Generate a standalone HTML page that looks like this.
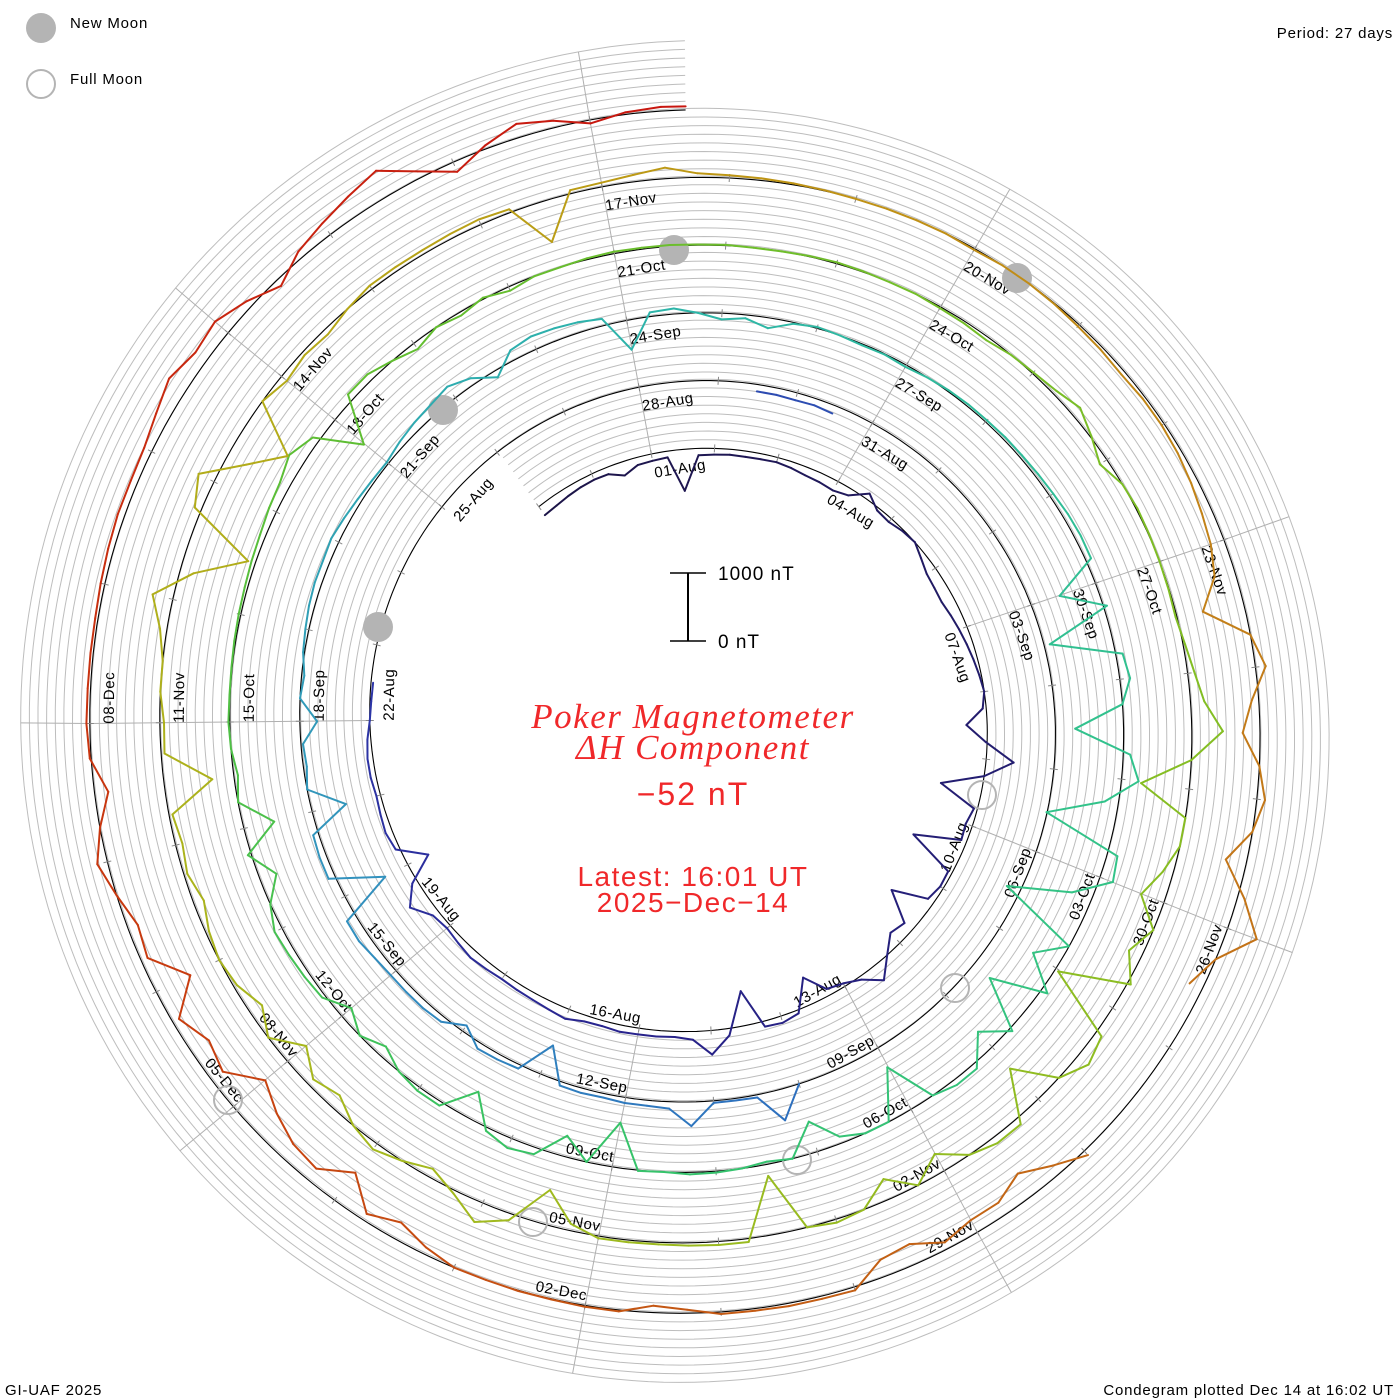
<!DOCTYPE html>
<html><head><meta charset="utf-8"><style>
html,body{margin:0;padding:0;background:#fff;}
svg{display:block;font-family:"Liberation Sans",sans-serif;}
</style></head><body>
<svg id="chart" width="1400" height="1400" viewBox="0 0 1400 1400" xmlns="http://www.w3.org/2000/svg">
<rect x="0" y="0" width="1400" height="1400" fill="#fff"/>
<g id="grid"></g>
<g id="radials"></g>
<g id="ticks"></g>
<g id="labels"></g>
<g id="moons"></g>
<g id="series"></g>

<g>
<circle cx="41" cy="28" r="15" fill="#b4b4b4"/>
<text x="70" y="28" font-size="15" letter-spacing="0.8">New Moon</text>
<circle cx="41" cy="84" r="14" fill="none" stroke="#b4b4b4" stroke-width="2"/>
<text x="70" y="84" font-size="15" letter-spacing="0.8">Full Moon</text>
</g>
<text x="1393" y="38" font-size="15" text-anchor="end" letter-spacing="0.8">Period: 27 days</text>
<text x="5" y="1395" font-size="15" letter-spacing="0.8">GI-UAF 2025</text>
<text x="1394" y="1395" font-size="15" text-anchor="end" letter-spacing="0.8">Condegram plotted Dec 14 at 16:02 UT</text>

<g>
<line x1="688" y1="573" x2="688" y2="641" stroke="#000" stroke-width="2"/>
<line x1="670" y1="573" x2="706" y2="573" stroke="#000" stroke-width="1.5"/>
<line x1="670" y1="641" x2="706" y2="641" stroke="#000" stroke-width="1.5"/>
<text x="718" y="580" font-size="19" letter-spacing="1">1000 nT</text>
<text x="718" y="648" font-size="19" letter-spacing="1">0 nT</text>
</g>

<g fill="#f0282a" text-anchor="middle">
<text x="693" y="728" font-family="'Liberation Serif',serif" font-style="italic" font-size="35" letter-spacing="1.5">Poker Magnetometer</text>
<text x="693" y="759" font-family="'Liberation Serif',serif" font-style="italic" font-size="35" letter-spacing="1.5">ΔH Component</text>
<text x="693" y="805" font-size="32" letter-spacing="2">−52 nT</text>
<text x="693" y="886" font-size="28" letter-spacing="1.5">Latest: 16:01 UT</text>
<text x="693" y="912" font-size="28" letter-spacing="1.5">2025−Dec−14</text>
</g>
</svg>
<script>
// ---- data (nT offsets, sampled every 0.25 day; t = days since 01-Aug) ----
const STEP = 0.25;
const segAStart = -2;
const segAValues = [-150,-140,-120,-100,-90,-100,-200,-110,
  -100,-90,-600,-100,-90,-80,-85,-80,
  -70,-90,-120,-130,-150,-100,90,-40,
  -60,-20,0,-80,-150,-170,-180,-150,
  -120,-90,-60,-30,0,-50,-300,-20,
  400,0,-600,-50,-100,-80,-750,-60,
  -50,-100,-600,-150,-200,0,250,50,
  -50,-100,-400,50,100,80,-500,100,
  350,120,80,90,90,100,80,90,
  150,120,100,90,80,100,120,90,
  60,100,300,80,-330,60,100,80,
  60,80,80,50,0,-20,-30];
const segBStart = 28.5;
const segBValues = [-100,-100,-110,-100,-120];
const segCStart = 40;
const segCValues = [
  0,450,40,30, 30,350,100,80, 80,60,70,60, -450,60,80,90, -100,80,100,100,
  100,120,160,150, -650,100,100,80, -500,0,-50,-30, -250,0,-40,20, 50,80,100,100,
  120,90,60,40, 30,80,120,150, 200,100,-100,150, 200,180,150,100, -430,60,80,0,
  -90,-50,-150,-20, 20,0,-20,-10, -30,0,20,30, 30,40,40,50, 60,80,90,80,
  -550,50,-900,100, 150,0,-700,100, 250,-200,-1000,150, 200,-300,-1200,0, -400,100,-700,50,
  -300,80,80,0, -700,0,0,-100, -450,0,-40,0, 20,30,0,10, -650,0,-300,100,
  150,50,-400,60, 60,0,-150,0, -180,50,80,100, 120,0,-250,50, -450,0,-60,0,
  20,10,10,20, 30,40,60,80, 120,150,240,100, -550,100,100,0, -100,0,-50,20,
  -60,0,0,20, 30,20,20,10, 10,0,0,10, 20,10,0,0, -20,-30,-50,0,
  20,60,150,20, -120,0,20,10, 0,-10,-20,30, 100,200,450,0, -700,0,0,-150,
  -350,0,-200,50, -950,100,200,0, -600,100,100,0, -280,0,-300,0, 50,0,-850,50,
  50,40,30,30, 30,-100,-500,100, 300,50,-130,0, 100,0,-200,-100, -350,0,-200,-50,
  0,-50,-150,-50, -100,-50,-700,-50, -60,0,0,100, 300,-200,-900,100, 250,-300,-750,0,
  -100,-50,-80,0, 60,60,60,70, 80,50,-600,50, 60,100,160,60, 40,30,20,10,
  0,0,0,0, -20,0,0,-10, -30,-40,-60,-40, -40,-60,-100,-150, -200,-300,-600,0,
  150,-100,-250,0, 120,0,-300,100, 450,0,-200,null, null,null,null,null, 80,-150,-380,-200,
  -200,-100,-300,-250, 50,40,40,30, 30,-50,-100,20, 20,10,10,0, 0,-100,-250,-100,
  -500,-200,-250,-400, -600,-200,-300,-100, -550,-100,-150,0, 150,0,-200,20, 50,40,40,40,
  60,80,100,100, 120,200,300,200, 250,100,-100,100, 200,300,400,100, -150,50,200,100,
  -50,30,60];
const endTime = 135.67;
const endValue = 50;
const lastLabelDay = 129;
const monthNames = ["Aug","Sep","Oct","Nov","Dec"];
const monthDays = [31,30,31,30,31];
const newMoons = [[674,250],[1017,278],[443,410],[378,627]];
const fullMoons = [[982,795],[955,988],[797,1160],[533,1222],[228,1100]];

// ---- geometry ----
const NS = "http://www.w3.org/2000/svg";
const T0 = -2;
const PERIOD = 27;
const TURN = 69.1;
const PX_PER_NT = TURN / 1000;
function B(t){ return 272 + TURN / PERIOD * t; }
function C(t){ return [696 - 4*(t-7)/120, 723 + 6*(t-14)/120]; }
function angDeg(t){ return -9.5 + 360*t/PERIOD; }
function P(t, off){
  const c = C(t), r = B(t) + off, a = angDeg(t)*Math.PI/180;
  return [c[0] + r*Math.sin(a), c[1] - r*Math.cos(a)];
}
function mk(tag, attrs, parent){
  const e = document.createElementNS(NS, tag);
  for (const k in attrs) e.setAttribute(k, attrs[k]);
  parent.appendChild(e);
  return e;
}
function ptsStr(a){ return a.map(p => p[0].toFixed(1)+","+p[1].toFixed(1)).join(" "); }

const grid = document.getElementById("grid");
for (let k = 1; k <= 8; k++){
  const pts = [];
  for (let t = T0; t <= endTime + 1e-6; t += 0.1) pts.push(P(t, k*TURN/8));
  pts.push(P(endTime, k*TURN/8));
  const pl = mk("polyline", {points: ptsStr(pts), fill: "none", stroke: "#bdbdbd", "stroke-width": 1}, grid);
  
  
}
{
  const pts = [];
  for (let t = T0; t <= endTime + 1e-6; t += 0.1) pts.push(P(t, 0));
  pts.push(P(endTime, 0));
  const pl = mk("polyline", {points: ptsStr(pts), fill: "none", stroke: "#000", "stroke-width": 1.1}, grid);
  
  
}
const radials = document.getElementById("radials");
for (let k = 0; k < 9; k++){
  const tf = 3*k;
  let tl = tf; while (tl + PERIOD <= endTime) tl += PERIOD;
  const pts = [];
  for (let t = tf; t <= tl + 1e-6; t += PERIOD) pts.push(P(t, 0));
  pts.push(P(tl, TURN));
  const pl = mk("polyline", {points: ptsStr(pts), fill: "none", stroke: "#b0b0b0", "stroke-width": 1}, radials);
  
  
}
const ticks = document.getElementById("ticks");
for (let t = -2; t <= 135; t++){
  const a = P(t, -4), b = P(t, 4);
  const ln = mk("line", {x1: a[0], y1: a[1], x2: b[0], y2: b[1], stroke: "#888", "stroke-width": 1}, ticks);
  
  
}
function dateLabel(t){
  let d = t, m = 0;
  while (d >= monthDays[m]) { d -= monthDays[m]; m++; }
  const dd = d + 1;
  return (dd < 10 ? "0" + dd : "" + dd) + "-" + monthNames[m];
}
const labels = document.getElementById("labels");
for (let t = 0; t <= lastLabelDay; t += 3){
  let a = ((angDeg(t) % 360) + 360) % 360;
  const flip = a > 90 && a < 270;
  const p = flip ? P(t, -5) : P(t, -24);
  const rot = flip ? a - 180 : a;
  const tx = mk("text", {x: 0, y: 0, "font-size": 15, "letter-spacing": 0.6,
    "text-anchor": flip ? "end" : "start",
    transform: "translate(" + p[0].toFixed(1) + "," + p[1].toFixed(1) + ") rotate(" + rot.toFixed(2) + ")"}, labels);
  tx.textContent = dateLabel(t);
  
  
}
const moons = document.getElementById("moons");
newMoons.forEach(m => {
  const c = mk("circle", {cx: m[0], cy: m[1], r: 15, fill: "#b4b4b4"}, moons);
  
  
});
fullMoons.forEach(m => {
  const c = mk("circle", {cx: m[0], cy: m[1], r: 14, fill: "none", stroke: "#b4b4b4", "stroke-width": 2}, moons);
  
  
});
const cStops = [[-2,[28,20,70]],[15,[40,35,140]],[22,[45,55,170]],[40,[45,110,190]],[46,[50,145,190]],
  [54,[45,180,170]],[62,[50,195,140]],[70,[55,195,100]],[78,[95,190,50]],[88,[130,190,35]],
  [98,[165,185,30]],[105,[180,170,25]],[109,[190,150,20]],[115,[195,125,25]],[121,[195,95,20]],
  [127,[200,60,15]],[136,[200,20,15]]];
function colorAt(t){
  for (let i = 1; i < cStops.length; i++){
    if (t <= cStops[i][0]){
      const a = cStops[i-1], b = cStops[i], f = (t - a[0])/(b[0]-a[0]);
      const c = a[1].map((v, j) => Math.round(v + (b[1][j]-v)*f));
      return "rgb(" + c.join(",") + ")";
    }
  }
  return "rgb(200,20,15)";
}
const series = document.getElementById("series");
function drawSeg(start, values, extra){
  const pts = values.map((v, i) => [start + i*STEP, v]);
  if (extra) pts.push(extra);
  for (let i = 0; i + 1 < pts.length; i++){
    const a = pts[i], b = pts[i+1];
    if (a[1] === null || b[1] === null) continue;
    const pa = P(a[0], a[1]*PX_PER_NT), pb = P(b[0], b[1]*PX_PER_NT);
    const ln = mk("line", {x1: pa[0].toFixed(1), y1: pa[1].toFixed(1), x2: pb[0].toFixed(1), y2: pb[1].toFixed(1),
      stroke: colorAt((a[0]+b[0])/2), "stroke-width": 2, "stroke-linecap": "round"}, series);
    
    
  }
}
drawSeg(segAStart, segAValues, null);
drawSeg(segBStart, segBValues, null);
drawSeg(segCStart, segCValues, [endTime, endValue]);
</script>
</body></html>
